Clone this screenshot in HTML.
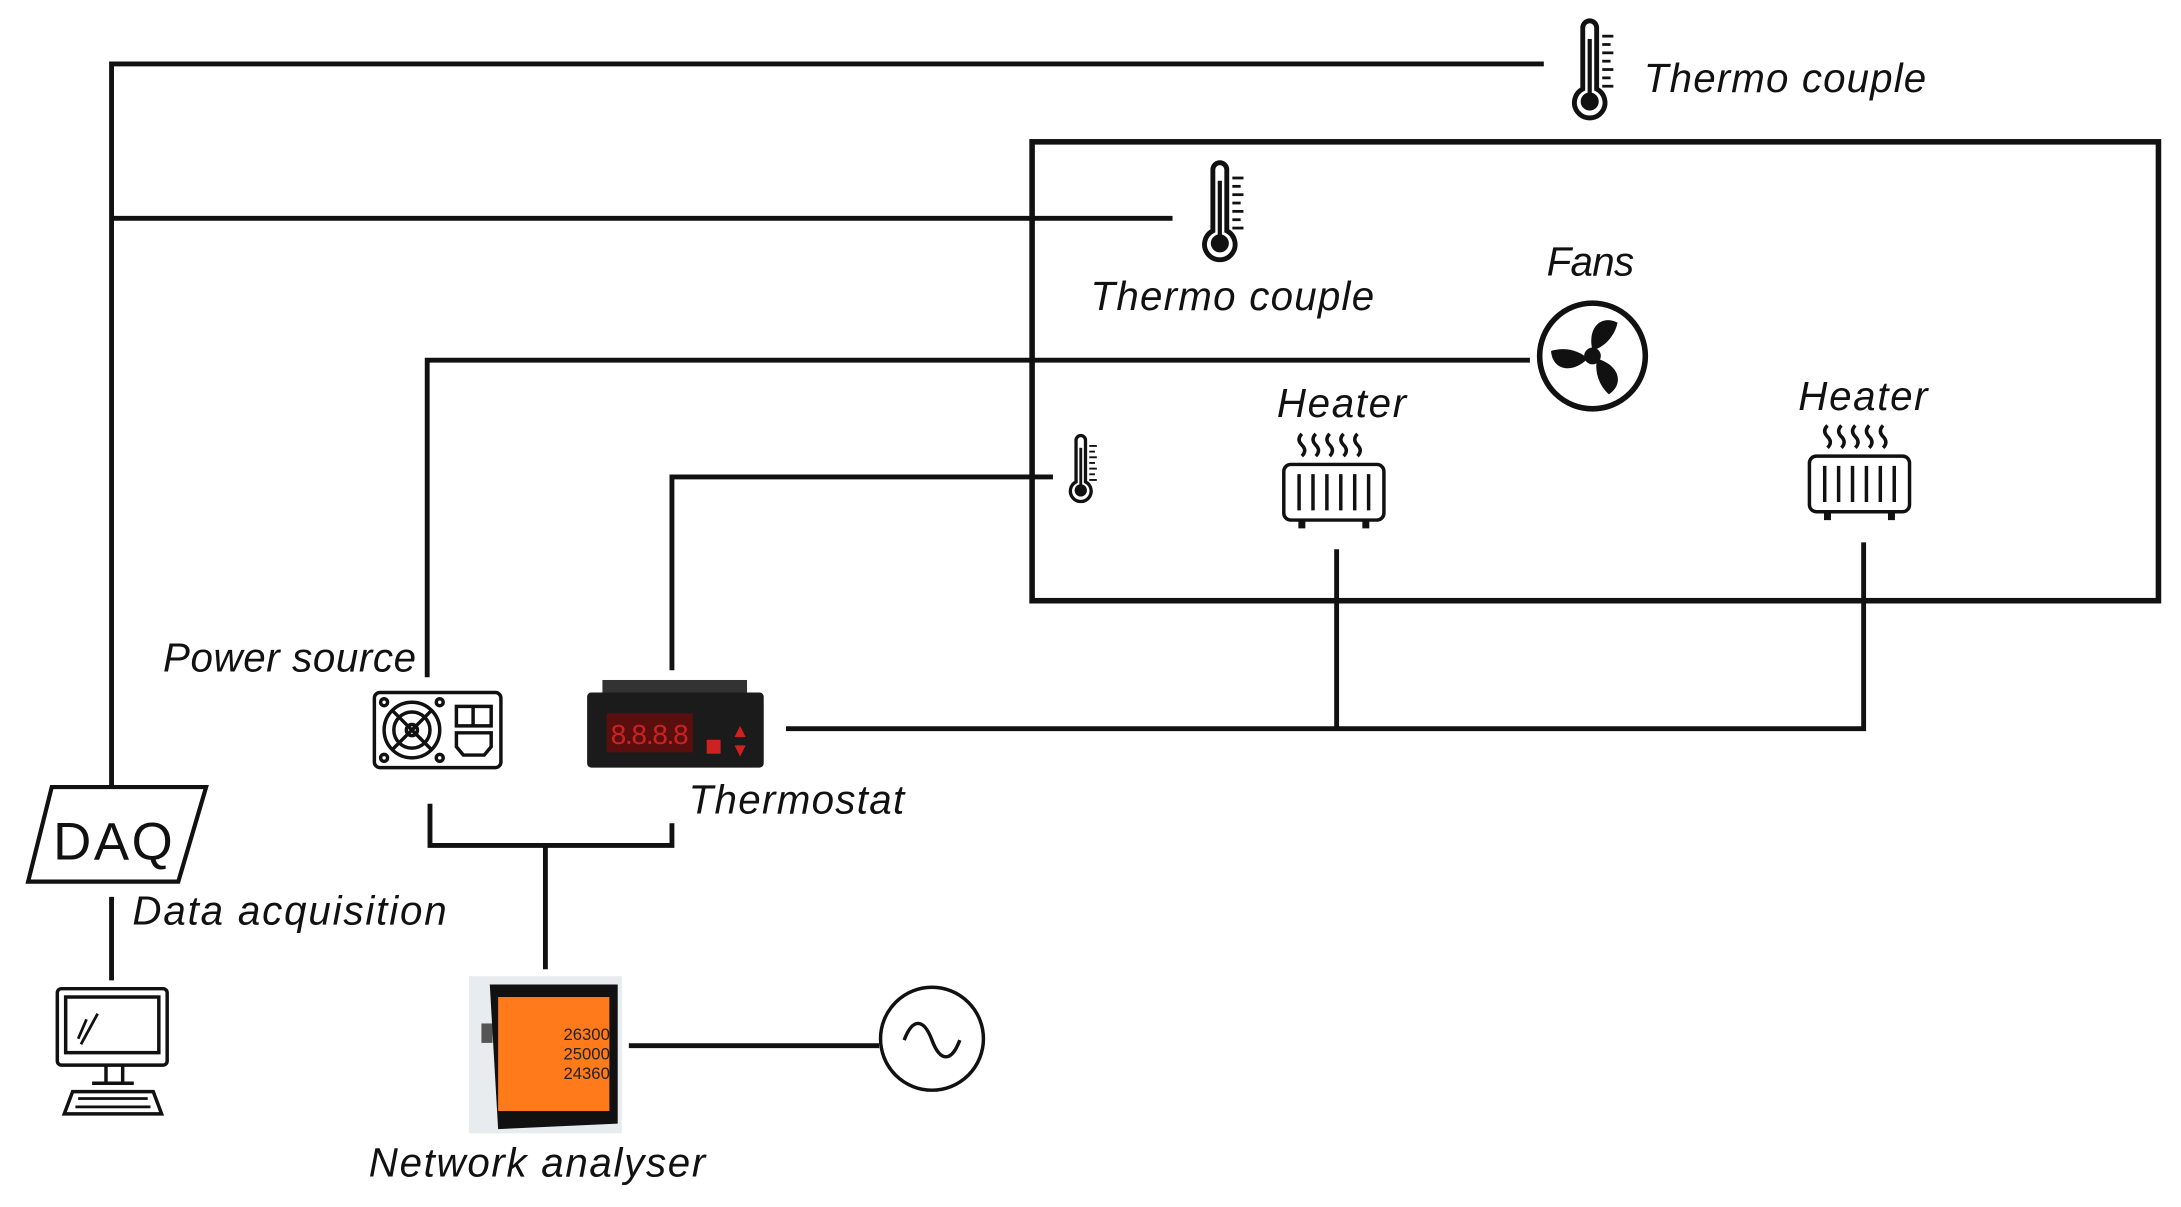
<!DOCTYPE html>
<html><head><meta charset="utf-8"><style>
html,body{margin:0;padding:0;background:#fff;}
svg{display:block;}
text{font-family:"Liberation Sans",sans-serif;font-style:italic;fill:#111;}
</style></head><body>
<svg width="2181" height="1207" viewBox="0 0 1568 868" xmlns="http://www.w3.org/2000/svg">
<defs>
<g id="thermo">
<path d="M-5,-30 a5,5 0 0 1 10,0 v44 a11,11 0 1 1 -10,0 z" fill="#fff" stroke="#111" stroke-width="3.5"/>
<circle cx="0" cy="23" r="6.5" fill="#111"/>
<rect x="-1.5" y="-22" width="3" height="44" fill="#111"/>
<g stroke="#111" stroke-width="2"><line x1="9" y1="-24" x2="17" y2="-24"/><line x1="9" y1="-18" x2="15" y2="-18"/><line x1="9" y1="-12" x2="17" y2="-12"/><line x1="9" y1="-6" x2="15" y2="-6"/><line x1="9" y1="0" x2="17" y2="0"/><line x1="9" y1="6" x2="15" y2="6"/><line x1="9" y1="12" x2="17" y2="12"/></g>
</g>
<g id="heater" fill="none" stroke="#111" stroke-width="2.5">
<path d="M14,2 q-4,4 0,8 q4,4 0,8 M24,2 q-4,4 0,8 q4,4 0,8 M34,2 q-4,4 0,8 q4,4 0,8 M44,2 q-4,4 0,8 q4,4 0,8 M54,2 q-4,4 0,8 q4,4 0,8"/>
<rect x="1" y="24" width="72" height="40" rx="5"/>
<path d="M12,31v26M22,31v26M32,31v26M42,31v26M52,31v26M62,31v26"/>
<path d="M14,64v6M60,64v6" stroke-width="5"/>
</g>
</defs>
<g stroke="#111" stroke-width="3.5" fill="none">
<polyline points="1110,46 80,46 80,565"/>
<line x1="80" y1="157" x2="843" y2="157"/>
<polyline points="1100,259 307,259 307,487"/>
<polyline points="757,343 483,343 483,482"/>
<line x1="961" y1="395" x2="961" y2="524"/>
<polyline points="565,524 1340,524 1340,390"/>
<polyline points="309,578 309,608 483,608 483,592"/>
<line x1="392" y1="608" x2="392" y2="697"/>
<line x1="80" y1="645" x2="80" y2="705"/>
<line x1="452" y1="752" x2="632" y2="752"/>
<rect x="742" y="102" width="810" height="330" stroke-width="4"/>
<polygon points="37,566 148,566 128,634 20,634" stroke-width="3"/>
</g>
<use href="#thermo" x="1143" y="50"/>
<use href="#thermo" x="877" y="152"/>
<g transform="translate(777,337) scale(0.68)"><use href="#thermo"/></g>
<!-- fan -->
<circle cx="1145" cy="256" r="38" fill="#fff" stroke="#111" stroke-width="4"/>
<g fill="#111" transform="translate(1145,256)">
<path d="M0,-4 C-4,-20 6,-30 18,-24 C16,-14 8,-6 0,-4z"/>
<path d="M0,-4 C-4,-20 6,-30 18,-24 C16,-14 8,-6 0,-4z" transform="rotate(120)"/>
<path d="M0,-4 C-4,-20 6,-30 18,-24 C16,-14 8,-6 0,-4z" transform="rotate(240)"/>
<circle r="6"/>
</g>
<use href="#heater" x="922" y="310"/>
<use href="#heater" x="1300" y="304"/>
<!-- power source -->
<g fill="none" stroke="#111" stroke-width="2.5">
<rect x="269" y="498" width="91" height="54" rx="4"/>
<circle cx="296" cy="525" r="20"/><circle cx="296" cy="525" r="13"/><circle cx="296" cy="525" r="4"/>
<path d="M282,511l28,28M310,511l-28,28"/>
<circle cx="276" cy="505" r="2.5"/><circle cx="316" cy="505" r="2.5"/><circle cx="276" cy="545" r="2.5"/><circle cx="316" cy="545" r="2.5"/>
<rect x="328" y="508" width="25" height="14"/><line x1="340" y1="508" x2="340" y2="522"/>
<path d="M328,527h25v10l-5,6h-15l-5,-6z"/>
</g>
<!-- thermostat -->
<rect x="433" y="489" width="104" height="12" fill="#333"/>
<rect x="422" y="498" width="127" height="54" rx="3" fill="#1b1b1b"/>
<rect x="436" y="513" width="62" height="28" fill="#5a0f0f"/>
<text x="439" y="535" style="font-style:normal;fill:#c22;font-size:20px" textLength="56">8.8.8.8</text>
<rect x="508" y="532" width="10" height="10" fill="#c22"/>
<polygon points="528,530 536,530 532,522" fill="#c22"/><polygon points="528,536 536,536 532,544" fill="#c22"/>
<!-- DAQ -->
<text x="38" y="618" style="font-style:normal;font-size:38px" textLength="86">DAQ</text>
<!-- computer -->
<g fill="none" stroke="#111" stroke-width="2.5">
<rect x="41" y="711" width="79" height="55" rx="3"/>
<rect x="47" y="717" width="67" height="40"/>
<path d="M76,766v12M88,766v12M66,779h30"/>
<path d="M52,785h58l6,16h-70z"/>
<path d="M62,733l-6,14M70,729l-12,22" stroke-width="2"/>
</g>
<g fill="#111"><rect x="56" y="789" width="50" height="2"/><rect x="54" y="795" width="54" height="2"/></g>
<!-- network analyser -->
<rect x="337" y="702" width="110" height="113" fill="#e9ecef"/>
<rect x="346" y="736" width="8" height="14" fill="#555"/>
<path d="M352,708 h92 v100 l-86,4z" fill="#111"/>
<rect x="358" y="717" width="80" height="82" fill="#ff7a1a"/>
<text x="405" y="748" style="font-style:normal;font-size:12px;fill:#222">26300</text>
<text x="405" y="762" style="font-style:normal;font-size:12px;fill:#222">25000</text>
<text x="405" y="776" style="font-style:normal;font-size:12px;fill:#222">24360</text>
<!-- AC -->
<circle cx="670" cy="747" r="37" fill="#fff" stroke="#111" stroke-width="2.5"/>
<path d="M650,740 c6,-16 14,-16 20,0 s14,16 20,0" fill="none" stroke="#111" stroke-width="2.5" transform="translate(0,8)"/>
<!-- labels -->
<g style="font-size:29px">
<text x="1182" y="66" textLength="203">Thermo couple</text>
<text x="784" y="223" textLength="204">Thermo couple</text>
<text x="1112" y="198" textLength="63">Fans</text>
<text x="918" y="300" textLength="93">Heater</text>
<text x="1293" y="295" textLength="93">Heater</text>
<text x="117" y="483" textLength="182">Power source</text>
<text x="495" y="585" textLength="155">Thermostat</text>
<text x="95" y="665" textLength="226">Data acquisition</text>
<text x="265" y="846" textLength="242">Network analyser</text>
</g>
</svg>
</body></html>
